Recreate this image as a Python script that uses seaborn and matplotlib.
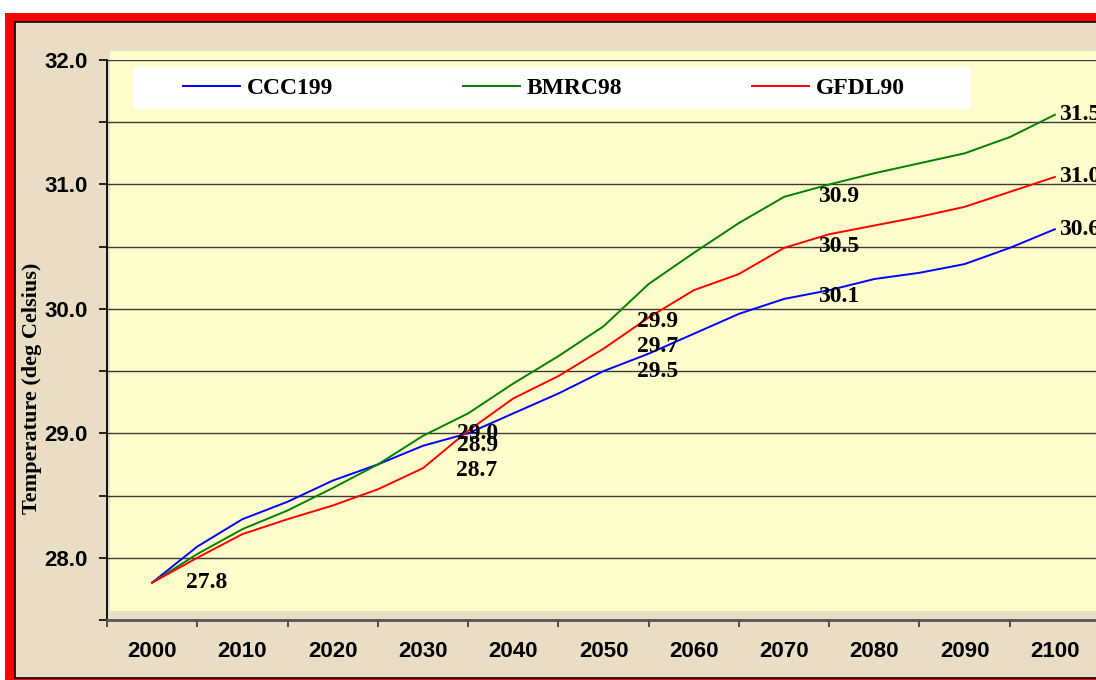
import matplotlib
matplotlib.use("Agg")
import matplotlib.pyplot as plt
import matplotlib.patches as mpatches
from matplotlib.ticker import MultipleLocator, FixedLocator, NullFormatter
import seaborn as sns
import pandas as pd

# values, 5-year steps
years = list(range(2000, 2101, 5))
ccc199 = [27.80, 28.09, 28.31, 28.45, 28.62, 28.75, 28.90, 29.00, 29.16, 29.32, 29.50,
          29.64, 29.80, 29.96, 30.08, 30.15, 30.24, 30.29, 30.36, 30.49, 30.64]
bmrc98 = [27.80, 28.03, 28.23, 28.38, 28.56, 28.75, 28.98, 29.16, 29.40, 29.62, 29.86,
          30.20, 30.45, 30.69, 30.90, 31.00, 31.09, 31.17, 31.25, 31.38, 31.56]
gfdl90 = [27.80, 28.00, 28.19, 28.31, 28.42, 28.55, 28.72, 29.02, 29.28, 29.46, 29.68,
          29.93, 30.15, 30.28, 30.49, 30.60, 30.67, 30.74, 30.82, 30.94, 31.06]
series_names = ["CCC199", "BMRC98", "GFDL90"]
series_colors = ["#0000FF", "#008000", "#FF0000"]
xtick_labels = [str(y) for y in range(2000, 2101, 10)]

# data labels as they sit in the original (text, year column)
mid_labels = [("27.8", 2006),
              ("29.0", 2036), ("28.9", 2036), ("28.7", 2036),
              ("29.9", 2056), ("29.7", 2056), ("29.5", 2056),
              ("30.9", 2076), ("30.5", 2076), ("30.1", 2076)]
end_labels = ["31.5", "31.0", "30.6"]

df = pd.DataFrame({
    "year": years * 3,
    "temp": bmrc98 + gfdl90 + ccc199,
    "model": ["BMRC98"] * len(years) + ["GFDL90"] * len(years) + ["CCC199"] * len(years),
})

W, H = 1096, 680
fig = plt.figure(figsize=(W / 100, H / 100), dpi=100, facecolor="white")

# red frame and beige board
fig.patches.append(mpatches.Rectangle((5 / W, -0.1), 1.2, (H - 13) / H + 0.1,
                                      transform=fig.transFigure, facecolor="#FF0000",
                                      edgecolor="none", zorder=-10))
fig.patches.append(mpatches.Rectangle((15 / W, 2 / H), 1.2, (H - 22 - 2) / H,
                                      transform=fig.transFigure, facecolor="#E9DEC5",
                                      edgecolor="black", linewidth=1.2, zorder=-9))

ax = fig.add_axes([107 / W, 60 / H, 993 / W, 560 / H])
ax.set_facecolor("none")
ax.add_patch(mpatches.Rectangle((3 / 993, 9 / 560), 1.0, 1.0, transform=ax.transAxes,
                                facecolor="#FFFCCB", edgecolor="none", zorder=-5,
                                clip_on=False))

sns.lineplot(data=df, x="year", y="temp", hue="model", hue_order=series_names,
             palette=series_colors, linewidth=1.4, ax=ax, legend=False, sort=False)
ax.set_xlabel("")
ax.set_ylabel("")

ax.set_xlim(1995, 2105)
ax.set_ylim(27.5, 32.0)

ax.yaxis.set_major_locator(MultipleLocator(0.5))
ax.set_yticklabels([f"{v:.1f}" if abs(v - round(v)) < 1e-6 else "" for v in ax.get_yticks()])
ax.grid(axis="y", color="#3a3a3a", linewidth=1.0)
ax.grid(axis="x", visible=False)
ax.set_axisbelow(True)

ax.xaxis.set_major_locator(MultipleLocator(10, offset=5))
ax.xaxis.set_major_formatter(NullFormatter())
ax.xaxis.set_minor_locator(FixedLocator(list(range(2000, 2101, 10))))
ax.set_xticklabels(xtick_labels, minor=True)

sans = ["Liberation Sans Narrow", "Liberation Sans", "DejaVu Sans"]
ax.tick_params(axis="y", direction="out", length=6, width=1.2, pad=8, color="black")
ax.tick_params(axis="x", which="major", direction="out", length=5, width=1.2, color="#333333")
ax.tick_params(axis="x", which="minor", length=0, pad=15)
for lab in ax.get_yticklabels() + ax.get_xticklabels(minor=True):
    lab.set_family(sans)
    lab.set_fontweight("bold")
    lab.set_fontsize(16)

for side in ["top", "right"]:
    ax.spines[side].set_visible(False)
ax.spines["left"].set_color("black")
ax.spines["left"].set_linewidth(1.3)
ax.spines["bottom"].set_color("#555555")
ax.spines["bottom"].set_linewidth(2)

serif = ["Liberation Serif", "DejaVu Serif"]
for text, yr in mid_labels:
    ax.text(yr, float(text), text, ha="center", va="center", family=serif,
            fontweight="bold", fontsize=17, color="black")
for text, y_end in zip(end_labels, [bmrc98[-1], gfdl90[-1], ccc199[-1]]):
    ax.text(years[-1] + 0.5, y_end, text, ha="left", va="center", family=serif,
            fontweight="bold", fontsize=17, color="black", clip_on=False)

fig.text(32 / W, 1 - 388 / H, "Temperature (deg Celsius)", rotation=90, ha="center",
         va="center", family=serif, fontweight="bold", fontsize=16)

# legend box
ax.add_patch(mpatches.Rectangle(((133 - 107) / 993, (H - 109 - 60) / 560), 838 / 993, 42 / 560,
                                transform=ax.transAxes, facecolor="white", edgecolor="none",
                                zorder=3))
handles = [plt.Line2D([], [], color=c, linewidth=1.4) for c in series_colors]
leg = ax.legend(handles, series_names, loc="center left", ncol=3, frameon=False,
                bbox_to_anchor=((183 - 107) / 993, (H - 88 - 60) / 560), borderpad=0,
                borderaxespad=0, handlelength=2.4, handletextpad=0.3, columnspacing=5.5,
                prop={"family": serif, "weight": "bold", "size": 17})
leg.set_zorder(4)

fig.savefig("out.png", dpi=100, facecolor="white")
